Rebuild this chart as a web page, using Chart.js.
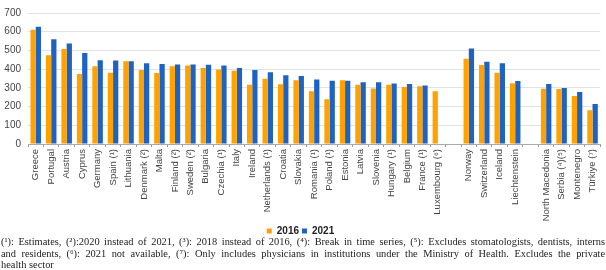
<!DOCTYPE html>
<html>
<head>
<meta charset="utf-8">
<script src="https://cdn.jsdelivr.net/npm/chart.js@4/dist/chart.umd.min.js"></script>
<style>
  html, body { margin: 0; padding: 0; background: #fff; }
  #wrap { position: relative; width: 606px; height: 270px; overflow: hidden; }
  #chartBox { position: absolute; left: 0; top: 0; width: 606px; height: 246px; }
  #notes { position: absolute; left: 1px; top: 236px; width: 604px; font-family: "Liberation Serif", "Times New Roman", serif; font-size: 10.4px; line-height: 11.5px; color: #222; }
  #notes div { text-align: justify; text-align-last: justify; white-space: nowrap; }
  #notes div.last { text-align-last: left; }
</style>
</head>
<body>
<div id="wrap">
  <div id="chartBox"><canvas id="c" width="606" height="246"></canvas></div>
  <div id="notes">
    <div>(¹): Estimates, (²):2020 instead of 2021, (³): 2018 instead of 2016, (⁴): Break in time series, (⁵): Excludes stomatologists, dentists, interns</div>
    <div>and residents, (⁶): 2021 not available, (⁷): Only includes physicians in institutions under the Ministry of Health. Excludes the private</div>
    <div class="last">health sector</div>
  </div>
</div>
<script>
const categories = ['Greece','Portugal','Austria','Cyprus','Germany','Spain (¹)','Lithuania','Denmark (²)','Malta','Finland (²)','Sweden (²)','Bulgaria','Czechia (¹)','Italy','Ireland','Netherlands (¹)','Croatia','Slovakia','Romania (¹)','Poland (¹)','Estonia','Latvia','Slovenia','Hungary (¹)','Belgium','France (¹)','Luxembourg (⁶)','','Norway','Switzerland','Iceland','Liechtenstein','','North Macedonia','Serbia (⁴)(⁵)','Montenegro','Türkiye (⁷)'];
const values2016 = [610,474,508,374,415,381,442,396,379,415,420,406,398,392,316,348,319,341,282,239,341,316,297,316,304,308,282,null,456,422,381,324,null,295,294,256,180];
const values2021 = [626,560,537,486,447,446,442,432,428,425,425,423,420,406,396,384,367,364,345,338,338,330,330,323,321,313,null,null,510,439,432,336,null,321,299,278,214];
const seriesNames = ['2016','2021'];
const yTicks = [0,100,200,300,400,500,600,700];

new Chart(document.getElementById('c'), {
  type: 'bar',
  data: {
    labels: categories,
    datasets: [
      { label: seriesNames[0], data: values2016, backgroundColor: '#FFA200', categoryPercentage: 0.68, barPercentage: 1.0 },
      { label: seriesNames[1], data: values2021, backgroundColor: '#1F63C2', categoryPercentage: 0.68, barPercentage: 1.0 }
    ]
  },
  options: {
    responsive: false,
    animation: false,
    devicePixelRatio: 1,
    layout: { padding: { left: 0, right: 5, top: 1, bottom: 0 } },
    plugins: {
      legend: {
        position: 'bottom',
        labels: { boxWidth: 5, boxHeight: 5, padding: 3, color: '#222', font: { family: 'Liberation Sans', size: 10, weight: 'bold' } }
      },
      tooltip: { enabled: false }
    },
    scales: {
      y: {
        min: 0, max: 700,
        afterBuildTicks: (axis) => { axis.ticks = yTicks.map(v => ({ value: v })); },
        afterFit: (axis) => { axis.width = 28; },
        ticks: { color: '#444', padding: 7, font: { family: 'Liberation Sans', size: 10 } },
        grid: { color: '#e2e2e2', drawTicks: false, lineWidth: 1 },
        border: { display: false }
      },
      x: {
        afterFit: (axis) => { axis.height = 79; },
        ticks: { autoSkip: false, maxRotation: 90, minRotation: 90, color: '#444', padding: 2, font: { family: 'Liberation Sans', size: 9.5 } },
        grid: { offset: true, drawOnChartArea: false, tickLength: 3, color: '#999' },
        border: { color: '#aaa' }
      }
    }
  }
});
</script>
</body>
</html>
